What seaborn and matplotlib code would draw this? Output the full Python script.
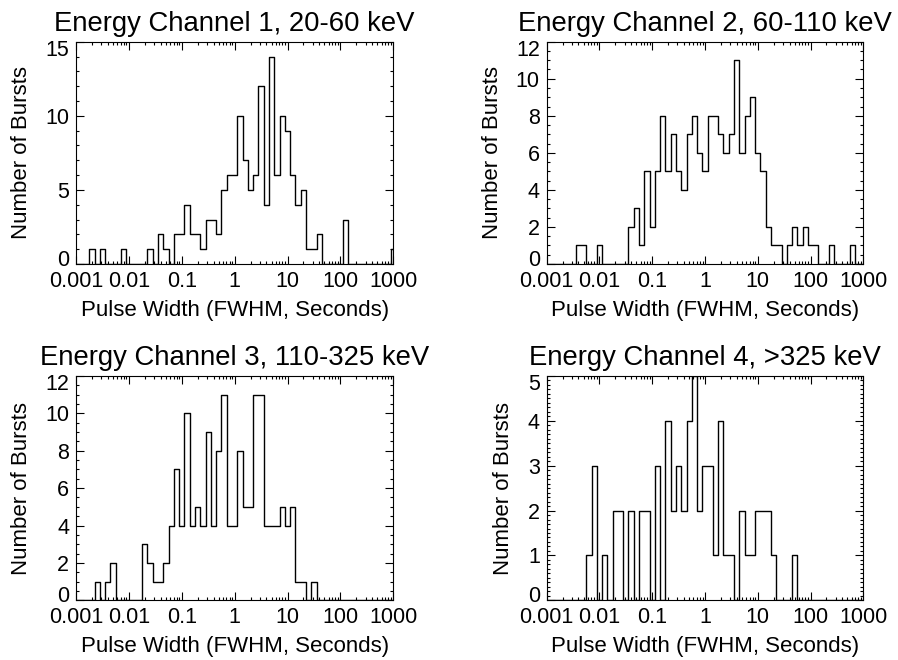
import numpy as np
import pandas as pd
import matplotlib
matplotlib.use("Agg")
import matplotlib.pyplot as plt
import matplotlib.transforms as mtransforms
from matplotlib.ticker import FixedLocator, LogLocator, MultipleLocator, NullFormatter
import seaborn as sns

# ---------------- data (log10 of pulse width bin centres, counts) ----------------
titles = ["Energy Channel 1, 20-60 keV", "Energy Channel 2, 60-110 keV",
          "Energy Channel 3, 110-325 keV", "Energy Channel 4, >325 keV"]

ch1_logw = [-2.7, -2.5, -2.1, -1.6, -1.4, -1.3, -1.1, -1.0, -0.9, -0.8, -0.7, -0.6,
            -0.5, -0.4, -0.3, -0.2, -0.1, 0.0, 0.1, 0.2, 0.3, 0.4, 0.5, 0.6, 0.7,
            0.8, 0.9, 1.0, 1.1, 1.2, 1.3, 1.4, 1.5, 1.6, 2.1, 3.0]
ch1_counts = [1, 1, 1, 1, 2, 1, 2, 2, 4, 2, 2, 1,
              3, 3, 2, 5, 6, 6, 10, 7, 5, 6, 12, 4, 14,
              6, 10, 9, 6, 4, 5, 1, 1, 2, 3, 1]

ch2_logw = [-2.4, -2.3, -2.0, -1.4, -1.3, -1.2, -1.1, -1.0, -0.9, -0.8, -0.7, -0.6,
            -0.5, -0.4, -0.3, -0.2, -0.1, 0.0, 0.1, 0.2, 0.3, 0.4, 0.5, 0.6, 0.7,
            0.8, 0.9, 1.0, 1.1, 1.2, 1.3, 1.4, 1.6, 1.7, 1.8, 1.9, 2.0, 2.1,
            2.4, 2.8]
ch2_counts = [1, 1, 1, 2, 3, 1, 5, 2, 5, 8, 5, 7,
              5, 4, 7, 8, 6, 5, 8, 8, 7, 6, 7, 11, 6,
              8, 9, 6, 5, 2, 1, 1, 1, 2, 1, 2, 1, 1,
              1, 1]

ch3_logw = [-2.6, -2.4, -2.3, -1.7, -1.6, -1.5, -1.4, -1.3, -1.2, -1.1, -1.0, -0.9,
            -0.8, -0.7, -0.6, -0.5, -0.4, -0.3, -0.2, -0.1, 0.0, 0.1, 0.2, 0.3,
            0.4, 0.5, 0.6, 0.7, 0.8, 0.9, 1.0, 1.1, 1.2, 1.3, 1.5]
ch3_counts = [1, 1, 2, 3, 2, 1, 1, 2, 4, 7, 4, 10,
              4, 5, 4, 9, 4, 8, 11, 4, 4, 8, 5, 5,
              11, 11, 4, 4, 4, 5, 4, 5, 1, 1, 1]

ch4_logw = [-2.2, -2.1, -1.9, -1.7, -1.6, -1.4, -1.2, -1.1, -0.9, -0.7, -0.6, -0.5,
            -0.4, -0.3, -0.2, -0.1, 0.0, 0.1, 0.2, 0.3, 0.4, 0.5, 0.7, 0.8, 0.9,
            1.0, 1.1, 1.2, 1.3, 1.7]
ch4_counts = [1, 3, 1, 2, 2, 2, 2, 2, 3, 4, 2, 3,
              2, 4, 5, 2, 3, 3, 1, 4, 1, 1, 2, 1, 1,
              2, 2, 2, 1, 1]

xtick_values = [0.001, 0.01, 0.1, 1, 10, 100, 1000]
xtick_labels = ["0.001", "0.01", "0.1", "1", "10", "100", "1000"]
ymax_list = [15, 12, 12, 5]
ymajor_list = [5, 2, 2, 1]
yminor_list = [1, 0.5, 0.5, 0.1]

xlabel = "Pulse Width (FWHM, Seconds)"
ylabel = "Number of Bursts"

# ---------------- figure ----------------
sns.set_theme(style="ticks")
plt.rcParams["font.family"] = ["Liberation Sans", "DejaVu Sans"]
plt.rcParams["axes.linewidth"] = 0.8
plt.rcParams["text.color"] = "black"
plt.rcParams["axes.labelcolor"] = "black"
plt.rcParams["axes.titlecolor"] = "black"

W, H = 898, 660
fig = plt.figure(figsize=(W / 100, H / 100), dpi=100)

# axes rectangles in pixels: (left, top, right, bottom)
rects = [(76, 41.7, 393.3, 264), (546.7, 41.7, 863.3, 264),
         (76, 376, 393.3, 600.3), (546.7, 376, 863.3, 600.3)]

datasets = [(ch1_logw, ch1_counts), (ch2_logw, ch2_counts),
            (ch3_logw, ch3_counts), (ch4_logw, ch4_counts)]

FS_TICK = 15.5
FS_LAB = 16
FS_TITLE = 19.8

for i, ((l, t, r, b), (lw_, cnt)) in enumerate(zip(rects, datasets)):
    ax = fig.add_axes([l / W, 1 - b / H, (r - l) / W, (b - t) / H])
    df = pd.DataFrame({"width": np.power(10.0, lw_), "count": cnt})
    sns.histplot(data=df, x="width", weights="count", log_scale=True,
                 binwidth=0.1, binrange=(-3.05, 3.05), element="step",
                 fill=False, color="black", linewidth=1.0, ax=ax)
    ax.set_xlim(1e-3, 1e3)
    ax.set_ylim(0, ymax_list[i])

    ax.xaxis.set_major_locator(FixedLocator(xtick_values))
    ax.set_xticklabels(xtick_labels)
    ax.xaxis.set_minor_locator(LogLocator(base=10, subs=np.arange(2, 10), numticks=20))
    ax.xaxis.set_minor_formatter(NullFormatter())
    ax.yaxis.set_major_locator(MultipleLocator(ymajor_list[i]))
    ax.yaxis.set_minor_locator(MultipleLocator(yminor_list[i]))

    ax.tick_params(which="both", direction="in", top=True, right=True,
                   labelsize=FS_TICK, colors="black", width=0.8)
    ax.tick_params(which="major", length=5.5, pad=5)
    ax.tick_params(which="minor", length=2.5)

    ax.set_xlabel(xlabel, fontsize=FS_LAB, labelpad=5.5, color="black")
    ax.set_ylabel(ylabel, fontsize=FS_LAB, labelpad=9.5, color="black")
    ax.set_title(titles[i], fontsize=FS_TITLE, loc="center", pad=8, color="black")
    for s in ax.spines.values():
        s.set_color("black")
        s.set_linewidth(0.8)

    # shift extreme y tick labels inward
    yt = ax.yaxis.get_major_ticks()
    locs = ax.yaxis.get_majorticklocs()
    for tk, v in zip(yt, locs):
        if abs(v) < 1e-9:
            off = 4.5
        elif abs(v - ymax_list[i]) < 1e-9:
            off = -4.5
        else:
            off = 0
        if off:
            tk.label1.set_transform(tk.label1.get_transform() +
                                    mtransforms.ScaledTranslation(0, off / 72, fig.dpi_scale_trans))

fig.savefig("out.png", dpi=100)
